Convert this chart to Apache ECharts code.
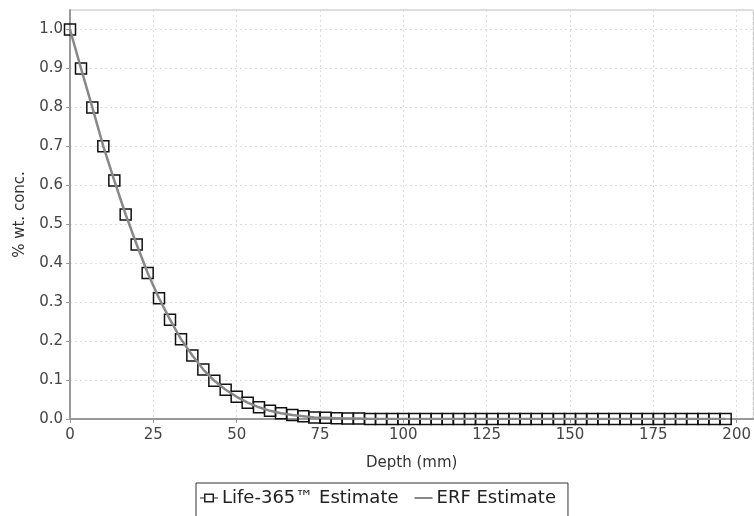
<!DOCTYPE html>
<html>
<head>
<meta charset="utf-8">
<script src="https://cdn.jsdelivr.net/npm/echarts@6/dist/echarts.min.js"></script>
<style>html,body{margin:0;padding:0;background:#fff;}#c{width:754px;height:516px;}</style>
</head>
<body>
<div id="c"></div>
<script>
const depths = [0,3.3,6.7,10,13.3,16.7,20,23.3,26.7,30,33.3,36.7,40,43.3,46.7,50,53.3,56.7,60,63.3,66.7,70,73.3,76.7,80,83.3,86.7,90,93.3,96.7,100,103.3,106.7,110,113.3,116.7,120,123.3,126.7,130,133.3,136.7,140,143.3,146.7,150,153.3,156.7,160,163.3,166.7,170,173.3,176.7,180,183.3,186.7,190,193.3,196.7];
const life365 = [1.0,0.9,0.8,0.7,0.612,0.525,0.448,0.375,0.31,0.255,0.205,0.163,0.127,0.098,0.075,0.057,0.042,0.030,0.021,0.015,0.010,0.007,0.004,0.003,0.002,0.001,0.001,0,0,0,0,0,0,0,0,0,0,0,0,0,0,0,0,0,0,0,0,0,0,0,0,0,0,0,0,0,0,0,0,0];
const erf = [1.0,0.9,0.8,0.7,0.612,0.525,0.448,0.375,0.31,0.255,0.205,0.163,0.127,0.098,0.075,0.057,0.042,0.030,0.021,0.015,0.010,0.007,0.004,0.003,0.002,0.001,0.001,0,0,0,0,0,0,0,0,0,0,0,0,0,0,0,0,0,0,0,0,0,0,0,0,0,0,0,0,0,0,0,0,0];
const seriesNames = ['Life-365™ Estimate', 'ERF Estimate'];
const xTitle = 'Depth (mm)';
const yTitle = '% wt. conc.';

const font = 'DejaVu Sans';
const squareIcon = 'path://M0,0L0.01,0L0,0.01Z M4,0.5L14,0.5L14,9.5L4,9.5Z M5.5,2L5.5,8L12.5,8L12.5,2Z M0,4.6L4,4.6L4,5.4L0,5.4Z M14,4.6L18,4.6L18,5.4L14,5.4Z M18,10L17.99,10L18,9.99Z';
const lineIcon = 'path://M0,0L0.01,0L0,0.01Z M0,4.1L18,4.1L18,5.9L0,5.9Z M18,10L17.99,10L18,9.99Z';
const chart = echarts.init(document.getElementById('c'));
chart.setOption({
  animation: false,
  backgroundColor: '#fff',
  textStyle: {fontFamily: font},
  grid: {left: 70, top: 10, width: 686, bottom: 97, show: true, borderColor: '#bbb', borderWidth: 1},
  legend: {
    top: 483, left: 196,
    borderColor: '#333', borderWidth: 1, padding: [6, 12, 14, 4],
    itemGap: 16, itemWidth: 18, itemHeight: 10,
    textStyle: {fontSize: 18, color: '#222', fontFamily: font, padding: [0, 0, 0, -1]},
    data: [
      {name: seriesNames[0], icon: squareIcon, itemStyle: {color: '#222', borderWidth: 0}},
      {name: seriesNames[1], icon: lineIcon, itemStyle: {color: '#888', borderWidth: 0}}
    ]
  },
  xAxis: {
    type: 'value', min: 0, max: 205, interval: 25,
    name: xTitle, nameLocation: 'middle', nameGap: 37,
    nameTextStyle: {fontSize: 15, color: '#333', fontFamily: font},
    axisLine: {show: true, lineStyle: {color: '#999', width: 2}},
    axisTick: {show: true, length: 4, lineStyle: {color: '#999'}},
    axisLabel: {fontSize: 15, color: '#444', showMaxLabel: false, margin: 9},
    splitLine: {show: true, lineStyle: {color: '#ddd', type: [2, 3]}}
  },
  yAxis: {
    type: 'value', min: 0, max: 1.05, interval: 0.1,
    name: yTitle, nameLocation: 'middle', nameGap: 42, nameRotate: 90,
    nameTextStyle: {fontSize: 15, color: '#333', fontFamily: font},
    axisLine: {show: true, lineStyle: {color: '#999', width: 2}},
    axisTick: {show: true, length: 4, lineStyle: {color: '#999'}},
    axisLabel: {fontSize: 15, color: '#444', showMaxLabel: false, margin: 7, formatter: v => v.toFixed(1)},
    splitLine: {show: true, lineStyle: {color: '#ddd', type: [2, 3]}}
  },
  series: [
    {
      name: seriesNames[0], type: 'line',
      data: depths.map((d, i) => [d, life365[i]]),
      symbol: 'rect', symbolSize: 11, showSymbol: true,
      lineStyle: {width: 0, opacity: 0},
      itemStyle: {color: 'rgba(0,0,0,0)', borderColor: '#111', borderWidth: 1.5},
      z: 2
    },
    {
      name: seriesNames[1], type: 'line',
      data: depths.map((d, i) => [d, erf[i]]),
      symbol: 'none',
      lineStyle: {color: '#888', width: 2.5},
      itemStyle: {color: '#888'},
      z: 3
    }
  ]
});
</script>
</body>
</html>
